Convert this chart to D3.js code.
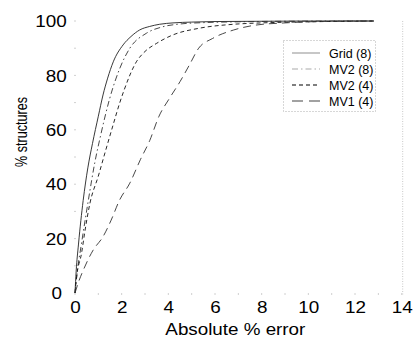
<!DOCTYPE html>
<html><head><meta charset="utf-8">
<script src="https://cdn.jsdelivr.net/npm/d3@7"></script>
<style>body{margin:0;background:#fff}svg{display:block}text{font-family:"Liberation Sans",Arial,Helvetica,sans-serif;fill:#000}</style>
</head><body>
<script>
const seriesNames = ["Grid (8)", "MV2 (8)", "MV2 (4)", "MV1 (4)"];
const gridX = [0,0.05,0.15,0.35,0.55,0.75,1.0,1.2,1.4,1.64,2.06,2.4,2.77,3.2,3.63,4.2,5,6,8,10,12.8];
const gridY = [0,8,18,34,46,55,65,72.8,79,85,91.2,94.3,96.7,98,98.8,99.3,99.6,99.8,99.9,100,100];
const mv2_8X = [0,0.1,0.28,0.57,0.85,1.1,1.49,1.92,2.35,3.06,3.77,4.5,5.5,7,9,12.8];
const mv2_8Y = [0,8,18.3,34,48,58,71.6,82.6,90,95.5,97.9,98.9,99.4,99.7,99.9,100];
const mv2_4X = [0,0.07,0.28,0.43,0.64,1.0,1.3,1.64,1.92,2.1,2.63,3.0,3.5,4.2,5.3,6.8,8,10,12.8];
const mv2_4Y = [0,6,14.6,23,33,43,52,62,70,74.5,85,88.8,91.8,94.9,97.3,98.8,99.3,99.7,100];
const mv1_4X = [0,0.15,0.36,0.78,1.2,1.55,1.9,2.35,2.8,3.2,3.6,4.05,4.5,4.9,5.3,5.9,6.8,7.75,9,10,11,12.8];
const mv1_4Y = [0,4,8.5,15.8,20.7,26.8,34,40.4,49,56,65,71.6,77.7,83.8,90,93.6,96.7,98.5,99.3,99.7,99.9,100];
const xTicks = [0,2,4,6,8,10,12,14];
const yTicks = [0,20,40,60,80,100];
const xTitle = "Absolute % error";
const yTitle = "% structures";

const W = 415, H = 338;
const svg = d3.select("body").append("svg").attr("width", W).attr("height", H);
const x = d3.scaleLinear().domain([0,14]).range([75, 401.7]);
const y = d3.scaleLinear().domain([0,100]).range([293, 21]);

// faint frame hints
svg.append("line").attr("x1", x(14)+1).attr("x2", x(14)+1).attr("y1", y(100)).attr("y2", y(0)+3)
  .attr("stroke", "#c8c8c8").attr("stroke-dasharray", "1,1.5");
const minorX = d3.range(0, 15, 1);
svg.selectAll(".mx").data(minorX).enter().append("line")
  .attr("x1", d => x(d)).attr("x2", d => x(d)).attr("y1", y(0)).attr("y2", y(0)+2)
  .attr("stroke", "#d0d0d0");
const minorY = d3.range(0, 101, 10);
svg.selectAll(".my").data(minorY).enter().append("line")
  .attr("x1", x(0)-1).attr("x2", x(0)+1).attr("y1", d => y(d)).attr("y2", d => y(d))
  .attr("stroke", "#d0d0d0");

// axes (labels only)
const xAxis = svg.append("g").attr("transform", `translate(0,${y(0)})`)
  .call(d3.axisBottom(x).tickValues(xTicks).tickSize(0).tickPadding(0).tickFormat(d3.format("d")));
xAxis.select(".domain").remove();
xAxis.selectAll("text").attr("y", 20).attr("dy", 0).attr("font-size", 16)
  .attr("transform", "scale(1.18,1)").attr("x", 0)
  .style("font-family", '"Liberation Sans",Arial,sans-serif').attr("fill", "#000");

const yAxis = svg.append("g").attr("transform", `translate(${x(0)},0)`)
  .call(d3.axisLeft(y).tickValues(yTicks).tickSize(0).tickPadding(0).tickFormat(d3.format("d")));
yAxis.select(".domain").remove();
yAxis.selectAll("text").attr("x", d => d === 0 ? -11 : -7).attr("dy", "0.36em").attr("font-size", 16)
  .attr("transform", "scale(1.18,1)")
  .style("font-family", '"Liberation Sans",Arial,sans-serif').attr("fill", "#000");

svg.append("text").attr("x", x(7)-3).attr("y", 335).attr("text-anchor", "middle")
  .attr("font-size", 16).attr("textLength", 140).attr("lengthAdjust", "spacingAndGlyphs").text(xTitle);
svg.append("text").attr("transform", "translate(27,132) rotate(-90)").attr("text-anchor", "middle")
  .attr("font-size", 16).attr("textLength", 70).attr("lengthAdjust", "spacingAndGlyphs").text(yTitle);

// series
const series = [
  {xs: gridX, ys: gridY, dash: null, color: "#222", lcolor: "#999"},
  {xs: mv2_8X, ys: mv2_8Y, dash: "6,3,1.5,3", color: "#333", lcolor: "#aaa"},
  {xs: mv2_4X, ys: mv2_4Y, dash: "4,3", color: "#111", lcolor: "#000"},
  {xs: mv1_4X, ys: mv1_4Y, dash: "8,5", color: "#333", lcolor: "#444"}
];
const line = d3.line().x(d => x(d[0])).y(d => y(d[1])).curve(d3.curveMonotoneX);
series.forEach(s => {
  const pts = s.xs.map((v, i) => [v, s.ys[i]]);
  svg.append("path").datum(pts).attr("d", line).attr("fill", "none")
    .attr("stroke", s.color).attr("stroke-width", 0.9)
    .attr("stroke-dasharray", s.dash);
});

// legend
const lg = svg.append("g");
lg.append("rect").attr("x", 283.5).attr("y", 40.5).attr("width", 92).attr("height", 71)
  .attr("fill", "#fff").attr("stroke", "#999").attr("stroke-width", 0.8).attr("stroke-dasharray", "1,2");
const legDash = [null, "6,3,1.5,3", "4,3", "11,6"];
seriesNames.forEach((n, i) => {
  const cy = 53 + i * 16;
  lg.append("line").attr("x1", 292).attr("x2", 320).attr("y1", cy).attr("y2", cy)
    .attr("stroke", series[i].lcolor).attr("stroke-width", 1.1).attr("stroke-dasharray", legDash[i]);
  lg.append("text").attr("x", 329).attr("y", cy).attr("dy", "0.36em").attr("font-size", 12.5).text(n);
});
</script>
</body></html>
